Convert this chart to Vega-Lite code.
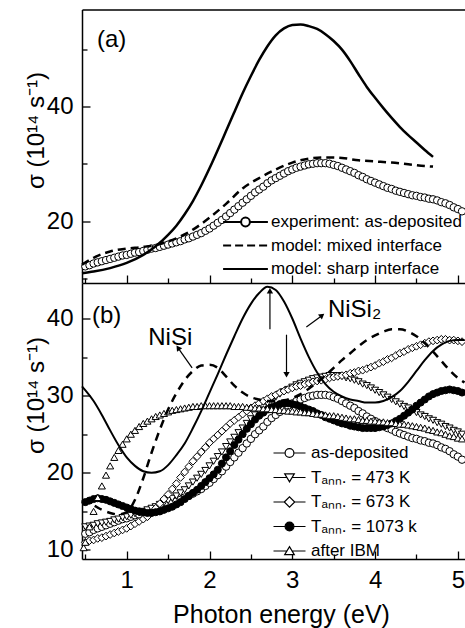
{
"$schema":"https://vega.github.io/schema/vega-lite/v6.json",
"width":383,"height":549.5,
"autosize":{"type":"none"},
"padding":{"left":82,"top":9.5,"right":0,"bottom":69},
"background":"white",
"config":{"view":{"stroke":null},"font":"Liberation Sans",
"axis":{"grid":false,"labelFont":"Liberation Sans","labelFontSize":24,"labelColor":"black","titleFont":"Liberation Sans","titleFontSize":24,"titleFontWeight":"normal","titleColor":"black","domainColor":"black","domainWidth":1.5,"tickColor":"black","tickWidth":1.3}},
"datasets":{
"exp":[{"x":0.5,"y":12.1},{"x":0.55,"y":12.3},{"x":0.6,"y":12.6},{"x":0.65,"y":12.8},{"x":0.7,"y":13.0},{"x":0.75,"y":13.2},{"x":0.8,"y":13.4},{"x":0.85,"y":13.6},{"x":0.9,"y":13.8},{"x":0.95,"y":14.0},{"x":1.0,"y":14.1},{"x":1.05,"y":14.3},{"x":1.1,"y":14.5},{"x":1.15,"y":14.6},{"x":1.2,"y":14.8},{"x":1.25,"y":15.0},{"x":1.3,"y":15.2},{"x":1.35,"y":15.3},{"x":1.4,"y":15.5},{"x":1.45,"y":15.7},{"x":1.5,"y":15.9},{"x":1.55,"y":16.1},{"x":1.6,"y":16.3},{"x":1.65,"y":16.5},{"x":1.7,"y":16.8},{"x":1.75,"y":17.0},{"x":1.8,"y":17.3},{"x":1.85,"y":17.6},{"x":1.9,"y":17.9},{"x":1.95,"y":18.3},{"x":2.0,"y":18.7},{"x":2.05,"y":19.2},{"x":2.1,"y":19.7},{"x":2.15,"y":20.2},{"x":2.2,"y":20.8},{"x":2.25,"y":21.4},{"x":2.3,"y":22.0},{"x":2.35,"y":22.6},{"x":2.4,"y":23.2},{"x":2.45,"y":23.8},{"x":2.5,"y":24.4},{"x":2.55,"y":25.0},{"x":2.6,"y":25.5},{"x":2.65,"y":26.0},{"x":2.7,"y":26.6},{"x":2.75,"y":27.1},{"x":2.8,"y":27.5},{"x":2.85,"y":27.9},{"x":2.9,"y":28.3},{"x":2.95,"y":28.7},{"x":3.0,"y":29.0},{"x":3.05,"y":29.3},{"x":3.1,"y":29.5},{"x":3.15,"y":29.7},{"x":3.2,"y":29.9},{"x":3.25,"y":30.0},{"x":3.3,"y":30.1},{"x":3.35,"y":30.1},{"x":3.4,"y":30.1},{"x":3.45,"y":30.0},{"x":3.5,"y":29.8},{"x":3.55,"y":29.6},{"x":3.6,"y":29.3},{"x":3.65,"y":29.0},{"x":3.7,"y":28.7},{"x":3.75,"y":28.4},{"x":3.8,"y":28.0},{"x":3.85,"y":27.7},{"x":3.9,"y":27.3},{"x":3.95,"y":27.0},{"x":4.0,"y":26.7},{"x":4.05,"y":26.4},{"x":4.1,"y":26.1},{"x":4.15,"y":25.8},{"x":4.2,"y":25.6},{"x":4.25,"y":25.3},{"x":4.3,"y":25.1},{"x":4.35,"y":24.9},{"x":4.4,"y":24.7},{"x":4.45,"y":24.5},{"x":4.5,"y":24.4},{"x":4.55,"y":24.2},{"x":4.6,"y":24.1},{"x":4.65,"y":23.9},{"x":4.7,"y":23.8},{"x":4.75,"y":23.6},{"x":4.8,"y":23.3},{"x":4.85,"y":23.1},{"x":4.9,"y":22.8},{"x":4.95,"y":22.4},{"x":5.0,"y":22.1},{"x":5.05,"y":21.7}],
"a_models":[{"s":"mixed","x":0.46,"y":12.4},{"s":"mixed","x":0.6,"y":13.6},{"s":"mixed","x":0.8,"y":14.7},{"s":"mixed","x":1.0,"y":15.2},{"s":"mixed","x":1.2,"y":15.5},{"s":"mixed","x":1.4,"y":16.0},{"s":"mixed","x":1.6,"y":17.0},{"s":"mixed","x":1.8,"y":18.5},{"s":"mixed","x":2.0,"y":20.6},{"s":"mixed","x":2.2,"y":23.0},{"s":"mixed","x":2.4,"y":25.7},{"s":"mixed","x":2.6,"y":27.5},{"s":"mixed","x":2.8,"y":29.0},{"s":"mixed","x":3.0,"y":30.2},{"s":"mixed","x":3.2,"y":30.9},{"s":"mixed","x":3.4,"y":31.1},{"s":"mixed","x":3.6,"y":31.0},{"s":"mixed","x":3.8,"y":30.6},{"s":"mixed","x":4.0,"y":30.4},{"s":"mixed","x":4.2,"y":30.2},{"s":"mixed","x":4.4,"y":29.9},{"s":"mixed","x":4.6,"y":29.6},{"s":"mixed","x":4.7,"y":29.5},
{"s":"sharp","x":0.46,"y":10.9},{"s":"sharp","x":0.6,"y":11.2},{"s":"sharp","x":0.8,"y":11.8},{"s":"sharp","x":1.0,"y":12.7},{"s":"sharp","x":1.2,"y":14.1},{"s":"sharp","x":1.35,"y":15.6},{"s":"sharp","x":1.5,"y":17.6},{"s":"sharp","x":1.6,"y":19.2},{"s":"sharp","x":1.7,"y":21.2},{"s":"sharp","x":1.8,"y":23.5},{"s":"sharp","x":1.9,"y":26.2},{"s":"sharp","x":2.0,"y":29.2},{"s":"sharp","x":2.1,"y":32.4},{"s":"sharp","x":2.2,"y":35.7},{"s":"sharp","x":2.3,"y":39.0},{"s":"sharp","x":2.4,"y":42.3},{"s":"sharp","x":2.5,"y":45.3},{"s":"sharp","x":2.6,"y":48.1},{"s":"sharp","x":2.7,"y":50.5},{"s":"sharp","x":2.8,"y":52.4},{"s":"sharp","x":2.9,"y":53.6},{"s":"sharp","x":3.0,"y":54.2},{"s":"sharp","x":3.1,"y":54.3},{"s":"sharp","x":3.2,"y":54.0},{"s":"sharp","x":3.3,"y":53.5},{"s":"sharp","x":3.4,"y":52.6},{"s":"sharp","x":3.5,"y":51.4},{"s":"sharp","x":3.6,"y":49.9},{"s":"sharp","x":3.7,"y":47.9},{"s":"sharp","x":3.8,"y":45.6},{"s":"sharp","x":3.9,"y":43.4},{"s":"sharp","x":4.0,"y":41.5},{"s":"sharp","x":4.1,"y":39.7},{"s":"sharp","x":4.2,"y":38.0},{"s":"sharp","x":4.3,"y":36.4},{"s":"sharp","x":4.4,"y":35.0},{"s":"sharp","x":4.5,"y":33.7},{"s":"sharp","x":4.6,"y":32.4},{"s":"sharp","x":4.7,"y":31.2}],
"t473":[{"x":0.5,"y":13.0},{"x":0.55,"y":13.1},{"x":0.6,"y":13.2},{"x":0.65,"y":13.4},{"x":0.7,"y":13.5},{"x":0.75,"y":13.6},{"x":0.8,"y":13.7},{"x":0.85,"y":13.9},{"x":0.9,"y":14.0},{"x":0.95,"y":14.2},{"x":1.0,"y":14.3},{"x":1.05,"y":14.5},{"x":1.1,"y":14.7},{"x":1.15,"y":14.8},{"x":1.2,"y":15.0},{"x":1.25,"y":15.2},{"x":1.3,"y":15.4},{"x":1.35,"y":15.6},{"x":1.4,"y":15.9},{"x":1.45,"y":16.1},{"x":1.5,"y":16.4},{"x":1.55,"y":16.7},{"x":1.6,"y":17.0},{"x":1.65,"y":17.4},{"x":1.7,"y":17.8},{"x":1.75,"y":18.3},{"x":1.8,"y":18.8},{"x":1.85,"y":19.3},{"x":1.9,"y":19.8},{"x":1.95,"y":20.3},{"x":2.0,"y":20.9},{"x":2.05,"y":21.5},{"x":2.1,"y":22.1},{"x":2.15,"y":22.7},{"x":2.2,"y":23.4},{"x":2.25,"y":24.0},{"x":2.3,"y":24.6},{"x":2.35,"y":25.2},{"x":2.4,"y":25.8},{"x":2.45,"y":26.4},{"x":2.5,"y":27.0},{"x":2.55,"y":27.5},{"x":2.6,"y":28.0},{"x":2.65,"y":28.5},{"x":2.7,"y":29.0},{"x":2.75,"y":29.4},{"x":2.8,"y":29.8},{"x":2.85,"y":30.2},{"x":2.9,"y":30.5},{"x":2.95,"y":30.8},{"x":3.0,"y":31.1},{"x":3.05,"y":31.4},{"x":3.1,"y":31.6},{"x":3.15,"y":31.8},{"x":3.2,"y":32.0},{"x":3.25,"y":32.2},{"x":3.3,"y":32.3},{"x":3.35,"y":32.4},{"x":3.4,"y":32.5},{"x":3.45,"y":32.6},{"x":3.5,"y":32.6},{"x":3.55,"y":32.6},{"x":3.6,"y":32.5},{"x":3.65,"y":32.3},{"x":3.7,"y":32.2},{"x":3.75,"y":32.0},{"x":3.8,"y":31.8},{"x":3.85,"y":31.5},{"x":3.9,"y":31.3},{"x":3.95,"y":31.0},{"x":4.0,"y":30.7},{"x":4.05,"y":30.4},{"x":4.1,"y":30.1},{"x":4.15,"y":29.8},{"x":4.2,"y":29.5},{"x":4.25,"y":29.2},{"x":4.3,"y":28.9},{"x":4.35,"y":28.6},{"x":4.4,"y":28.4},{"x":4.45,"y":28.1},{"x":4.5,"y":27.8},{"x":4.55,"y":27.5},{"x":4.6,"y":27.3},{"x":4.65,"y":27.0},{"x":4.7,"y":26.8},{"x":4.75,"y":26.5},{"x":4.8,"y":26.3},{"x":4.85,"y":26.0},{"x":4.9,"y":25.8},{"x":4.95,"y":25.5},{"x":5.0,"y":25.3},{"x":5.05,"y":25.0}],
"t673":[{"x":0.5,"y":11.0},{"x":0.55,"y":11.2},{"x":0.6,"y":11.3},{"x":0.65,"y":11.5},{"x":0.7,"y":11.6},{"x":0.75,"y":11.8},{"x":0.8,"y":12.0},{"x":0.85,"y":12.2},{"x":0.9,"y":12.4},{"x":0.95,"y":12.6},{"x":1.0,"y":12.8},{"x":1.05,"y":13.1},{"x":1.1,"y":13.4},{"x":1.15,"y":13.7},{"x":1.2,"y":14.0},{"x":1.25,"y":14.3},{"x":1.3,"y":14.8},{"x":1.35,"y":15.4},{"x":1.4,"y":16.0},{"x":1.45,"y":16.6},{"x":1.5,"y":17.2},{"x":1.55,"y":17.9},{"x":1.6,"y":18.6},{"x":1.65,"y":19.4},{"x":1.7,"y":20.1},{"x":1.75,"y":20.8},{"x":1.8,"y":21.5},{"x":1.85,"y":22.1},{"x":1.9,"y":22.7},{"x":1.95,"y":23.3},{"x":2.0,"y":23.9},{"x":2.05,"y":24.4},{"x":2.1,"y":24.9},{"x":2.15,"y":25.4},{"x":2.2,"y":25.9},{"x":2.25,"y":26.4},{"x":2.3,"y":26.8},{"x":2.35,"y":27.2},{"x":2.4,"y":27.6},{"x":2.45,"y":28.0},{"x":2.5,"y":28.4},{"x":2.55,"y":28.7},{"x":2.6,"y":29.0},{"x":2.65,"y":29.3},{"x":2.7,"y":29.6},{"x":2.75,"y":29.9},{"x":2.8,"y":30.1},{"x":2.85,"y":30.4},{"x":2.9,"y":30.6},{"x":2.95,"y":30.8},{"x":3.0,"y":31.0},{"x":3.05,"y":31.2},{"x":3.1,"y":31.3},{"x":3.15,"y":31.5},{"x":3.2,"y":31.6},{"x":3.25,"y":31.8},{"x":3.3,"y":31.9},{"x":3.35,"y":32.0},{"x":3.4,"y":32.1},{"x":3.45,"y":32.3},{"x":3.5,"y":32.4},{"x":3.55,"y":32.5},{"x":3.6,"y":32.6},{"x":3.65,"y":32.7},{"x":3.7,"y":32.9},{"x":3.75,"y":33.0},{"x":3.8,"y":33.2},{"x":3.85,"y":33.3},{"x":3.9,"y":33.5},{"x":3.95,"y":33.7},{"x":4.0,"y":33.9},{"x":4.05,"y":34.2},{"x":4.1,"y":34.4},{"x":4.15,"y":34.7},{"x":4.2,"y":34.9},{"x":4.25,"y":35.2},{"x":4.3,"y":35.5},{"x":4.35,"y":35.7},{"x":4.4,"y":36.0},{"x":4.45,"y":36.2},{"x":4.5,"y":36.4},{"x":4.55,"y":36.6},{"x":4.6,"y":36.8},{"x":4.65,"y":37.0},{"x":4.7,"y":37.1},{"x":4.75,"y":37.2},{"x":4.8,"y":37.3},{"x":4.85,"y":37.3},{"x":4.9,"y":37.2},{"x":4.95,"y":37.2},{"x":5.0,"y":37.1},{"x":5.05,"y":37.0}],
"t1073":[{"x":0.5,"y":16.2},{"x":0.55,"y":16.4},{"x":0.6,"y":16.6},{"x":0.65,"y":16.7},{"x":0.7,"y":16.6},{"x":0.75,"y":16.5},{"x":0.8,"y":16.3},{"x":0.85,"y":16.1},{"x":0.9,"y":15.9},{"x":0.95,"y":15.7},{"x":1.0,"y":15.5},{"x":1.05,"y":15.3},{"x":1.1,"y":15.1},{"x":1.15,"y":15.0},{"x":1.2,"y":14.9},{"x":1.25,"y":14.8},{"x":1.3,"y":14.8},{"x":1.35,"y":14.9},{"x":1.4,"y":15.0},{"x":1.45,"y":15.2},{"x":1.5,"y":15.4},{"x":1.55,"y":15.6},{"x":1.6,"y":15.9},{"x":1.65,"y":16.2},{"x":1.7,"y":16.6},{"x":1.75,"y":17.0},{"x":1.8,"y":17.4},{"x":1.85,"y":17.8},{"x":1.9,"y":18.3},{"x":1.95,"y":18.8},{"x":2.0,"y":19.3},{"x":2.05,"y":19.8},{"x":2.1,"y":20.4},{"x":2.15,"y":21.2},{"x":2.2,"y":22.0},{"x":2.25,"y":22.8},{"x":2.3,"y":23.6},{"x":2.35,"y":24.3},{"x":2.4,"y":25.0},{"x":2.45,"y":25.7},{"x":2.5,"y":26.3},{"x":2.55,"y":26.9},{"x":2.6,"y":27.4},{"x":2.65,"y":27.8},{"x":2.7,"y":28.2},{"x":2.75,"y":28.5},{"x":2.8,"y":28.7},{"x":2.85,"y":28.9},{"x":2.9,"y":29.0},{"x":2.95,"y":29.0},{"x":3.0,"y":28.9},{"x":3.05,"y":28.8},{"x":3.1,"y":28.6},{"x":3.15,"y":28.4},{"x":3.2,"y":28.2},{"x":3.25,"y":28.0},{"x":3.3,"y":27.7},{"x":3.35,"y":27.5},{"x":3.4,"y":27.2},{"x":3.45,"y":27.0},{"x":3.5,"y":26.8},{"x":3.55,"y":26.6},{"x":3.6,"y":26.4},{"x":3.65,"y":26.3},{"x":3.7,"y":26.1},{"x":3.75,"y":26.0},{"x":3.8,"y":25.9},{"x":3.85,"y":25.8},{"x":3.9,"y":25.8},{"x":3.95,"y":25.8},{"x":4.0,"y":25.8},{"x":4.05,"y":25.9},{"x":4.1,"y":26.0},{"x":4.15,"y":26.2},{"x":4.2,"y":26.4},{"x":4.25,"y":26.7},{"x":4.3,"y":27.0},{"x":4.35,"y":27.4},{"x":4.4,"y":27.8},{"x":4.45,"y":28.2},{"x":4.5,"y":28.7},{"x":4.55,"y":29.1},{"x":4.6,"y":29.5},{"x":4.65,"y":29.9},{"x":4.7,"y":30.2},{"x":4.75,"y":30.4},{"x":4.8,"y":30.6},{"x":4.85,"y":30.7},{"x":4.9,"y":30.8},{"x":4.95,"y":30.7},{"x":5.0,"y":30.6},{"x":5.05,"y":30.4}],
"ibm":[{"x":0.48,"y":10.3},{"x":0.5,"y":11.0},{"x":0.55,"y":13.0},{"x":0.6,"y":15.0},{"x":0.65,"y":16.8},{"x":0.7,"y":18.3},{"x":0.75,"y":19.7},{"x":0.8,"y":20.9},{"x":0.85,"y":22.0},{"x":0.9,"y":22.9},{"x":0.95,"y":23.7},{"x":1.0,"y":24.4},{"x":1.05,"y":25.0},{"x":1.1,"y":25.5},{"x":1.15,"y":26.0},{"x":1.2,"y":26.4},{"x":1.25,"y":26.7},{"x":1.3,"y":27.0},{"x":1.35,"y":27.3},{"x":1.4,"y":27.5},{"x":1.45,"y":27.7},{"x":1.5,"y":27.9},{"x":1.55,"y":28.1},{"x":1.6,"y":28.2},{"x":1.65,"y":28.3},{"x":1.7,"y":28.4},{"x":1.75,"y":28.5},{"x":1.8,"y":28.6},{"x":1.85,"y":28.6},{"x":1.9,"y":28.7},{"x":1.95,"y":28.7},{"x":2.0,"y":28.7},{"x":2.05,"y":28.7},{"x":2.1,"y":28.7},{"x":2.15,"y":28.7},{"x":2.2,"y":28.7},{"x":2.25,"y":28.7},{"x":2.3,"y":28.6},{"x":2.35,"y":28.6},{"x":2.4,"y":28.6},{"x":2.45,"y":28.5},{"x":2.5,"y":28.5},{"x":2.55,"y":28.4},{"x":2.6,"y":28.4},{"x":2.65,"y":28.3},{"x":2.7,"y":28.3},{"x":2.75,"y":28.2},{"x":2.8,"y":28.2},{"x":2.85,"y":28.1},{"x":2.9,"y":28.1},{"x":2.95,"y":28.0},{"x":3.0,"y":28.0},{"x":3.05,"y":27.9},{"x":3.1,"y":27.9},{"x":3.15,"y":27.8},{"x":3.2,"y":27.8},{"x":3.25,"y":27.7},{"x":3.3,"y":27.6},{"x":3.35,"y":27.6},{"x":3.4,"y":27.5},{"x":3.45,"y":27.4},{"x":3.5,"y":27.4},{"x":3.55,"y":27.3},{"x":3.6,"y":27.2},{"x":3.65,"y":27.1},{"x":3.7,"y":27.0},{"x":3.75,"y":27.0},{"x":3.8,"y":26.9},{"x":3.85,"y":26.8},{"x":3.9,"y":26.8},{"x":3.95,"y":26.7},{"x":4.0,"y":26.7},{"x":4.05,"y":26.6},{"x":4.1,"y":26.6},{"x":4.15,"y":26.5},{"x":4.2,"y":26.5},{"x":4.25,"y":26.4},{"x":4.3,"y":26.3},{"x":4.35,"y":26.3},{"x":4.4,"y":26.2},{"x":4.45,"y":26.1},{"x":4.5,"y":26.0},{"x":4.55,"y":25.9},{"x":4.6,"y":25.8},{"x":4.65,"y":25.6},{"x":4.7,"y":25.5},{"x":4.75,"y":25.3},{"x":4.8,"y":25.2},{"x":4.85,"y":25.0},{"x":4.9,"y":24.8},{"x":4.95,"y":24.7},{"x":5.0,"y":24.5},{"x":5.05,"y":24.4}],
"b_models":[{"s":"NiSi2","x":0.46,"y":31.2},{"s":"NiSi2","x":0.6,"y":29.3},{"s":"NiSi2","x":0.7,"y":27.5},{"s":"NiSi2","x":0.8,"y":25.5},{"s":"NiSi2","x":0.9,"y":23.6},{"s":"NiSi2","x":1.0,"y":22.0},{"s":"NiSi2","x":1.1,"y":20.9},{"s":"NiSi2","x":1.2,"y":20.2},{"s":"NiSi2","x":1.3,"y":20.0},{"s":"NiSi2","x":1.4,"y":20.2},{"s":"NiSi2","x":1.5,"y":21.0},{"s":"NiSi2","x":1.6,"y":22.3},{"s":"NiSi2","x":1.7,"y":23.8},{"s":"NiSi2","x":1.8,"y":25.8},{"s":"NiSi2","x":1.9,"y":28.0},{"s":"NiSi2","x":2.0,"y":30.4},{"s":"NiSi2","x":2.1,"y":32.8},{"s":"NiSi2","x":2.2,"y":35.3},{"s":"NiSi2","x":2.3,"y":37.7},{"s":"NiSi2","x":2.4,"y":40.0},{"s":"NiSi2","x":2.5,"y":41.9},{"s":"NiSi2","x":2.6,"y":43.3},{"s":"NiSi2","x":2.7,"y":44.1},{"s":"NiSi2","x":2.8,"y":43.7},{"s":"NiSi2","x":2.9,"y":42.2},{"s":"NiSi2","x":3.0,"y":40.0},{"s":"NiSi2","x":3.1,"y":37.4},{"s":"NiSi2","x":3.2,"y":35.0},{"s":"NiSi2","x":3.3,"y":33.0},{"s":"NiSi2","x":3.4,"y":31.5},{"s":"NiSi2","x":3.5,"y":30.5},{"s":"NiSi2","x":3.6,"y":29.9},{"s":"NiSi2","x":3.7,"y":29.5},{"s":"NiSi2","x":3.8,"y":29.3},{"s":"NiSi2","x":3.9,"y":29.1},{"s":"NiSi2","x":4.0,"y":29.1},{"s":"NiSi2","x":4.1,"y":29.3},{"s":"NiSi2","x":4.2,"y":29.8},{"s":"NiSi2","x":4.3,"y":30.6},{"s":"NiSi2","x":4.4,"y":31.8},{"s":"NiSi2","x":4.5,"y":33.2},{"s":"NiSi2","x":4.6,"y":34.6},{"s":"NiSi2","x":4.7,"y":35.8},{"s":"NiSi2","x":4.8,"y":36.6},{"s":"NiSi2","x":4.9,"y":37.1},{"s":"NiSi2","x":5.0,"y":37.2},{"s":"NiSi2","x":5.08,"y":37.2},
{"s":"NiSi","x":0.46,"y":16.5},{"s":"NiSi","x":0.6,"y":15.8},{"s":"NiSi","x":0.7,"y":15.2},{"s":"NiSi","x":0.8,"y":14.8},{"s":"NiSi","x":0.9,"y":14.6},{"s":"NiSi","x":1.0,"y":14.9},{"s":"NiSi","x":1.1,"y":16.5},{"s":"NiSi","x":1.2,"y":19.3},{"s":"NiSi","x":1.3,"y":22.6},{"s":"NiSi","x":1.4,"y":25.6},{"s":"NiSi","x":1.5,"y":28.2},{"s":"NiSi","x":1.6,"y":30.3},{"s":"NiSi","x":1.7,"y":32.0},{"s":"NiSi","x":1.8,"y":33.2},{"s":"NiSi","x":1.9,"y":33.9},{"s":"NiSi","x":2.0,"y":34.0},{"s":"NiSi","x":2.1,"y":33.6},{"s":"NiSi","x":2.2,"y":32.5},{"s":"NiSi","x":2.3,"y":31.3},{"s":"NiSi","x":2.4,"y":30.4},{"s":"NiSi","x":2.5,"y":29.8},{"s":"NiSi","x":2.6,"y":29.5},{"s":"NiSi","x":2.7,"y":29.3},{"s":"NiSi","x":2.8,"y":29.3},{"s":"NiSi","x":2.9,"y":29.4},{"s":"NiSi","x":3.0,"y":29.7},{"s":"NiSi","x":3.1,"y":30.2},{"s":"NiSi","x":3.2,"y":30.9},{"s":"NiSi","x":3.3,"y":31.7},{"s":"NiSi","x":3.4,"y":32.6},{"s":"NiSi","x":3.5,"y":33.6},{"s":"NiSi","x":3.6,"y":34.6},{"s":"NiSi","x":3.7,"y":35.5},{"s":"NiSi","x":3.8,"y":36.4},{"s":"NiSi","x":3.9,"y":37.2},{"s":"NiSi","x":4.0,"y":37.8},{"s":"NiSi","x":4.1,"y":38.3},{"s":"NiSi","x":4.2,"y":38.6},{"s":"NiSi","x":4.3,"y":38.6},{"s":"NiSi","x":4.4,"y":38.3},{"s":"NiSi","x":4.5,"y":37.7},{"s":"NiSi","x":4.6,"y":36.8},{"s":"NiSi","x":4.7,"y":35.7},{"s":"NiSi","x":4.8,"y":34.5},{"s":"NiSi","x":4.9,"y":33.3},{"s":"NiSi","x":5.0,"y":32.3},{"s":"NiSi","x":5.08,"y":31.7}],
"labels_a":[{"t":"(a)","x":0.64,"y":50.3}],
"labels_b":[{"t":"(b)","x":0.58,"y":39.4},{"t":"NiSi","x":1.26,"y":36.6},{"t":"NiSi₂","x":3.43,"y":40.2}],
"arrows":[{"id":"NiSi","x":1.79,"y":33.6,"x2":1.62,"y2":36.2},{"id":"NiSi2","x":3.17,"y":38.9,"x2":3.36,"y2":40.4},{"id":"up","x":2.73,"y":38.6,"x2":2.73,"y2":43.6},{"id":"down","x":2.93,"y":37.9,"x2":2.93,"y2":32.7}],
"leg_a":[{"s":"experiment: as-deposited"},{"s":"model: mixed interface"},{"s":"model: sharp interface"}],
"leg_b":[{"s":"as-deposited"},{"s":"Tₐₙₙ. = 473 K"},{"s":"Tₐₙₙ. = 673 K"},{"s":"Tₐₙₙ. = 1073 k"},{"s":"after IBM"}]
},
"resolve":{"scale":{"y":"independent","shape":"independent","fill":"independent","stroke":"independent"},"axis":{"x":"independent","y":"independent"},"legend":{"shape":"independent","fill":"independent","stroke":"independent"}},
"layer":[
{"data":{"name":"exp"},"mark":{"type":"point","shape":"circle","size":55,"filled":true,"fill":"white","stroke":"black","strokeWidth":1,"opacity":1},
 "encoding":{"x":{"field":"x","type":"quantitative","scale":{"domain":[0.46,5.086],"nice":false,"zero":false},"axis":{"orient":"bottom","values":[1,2,3,4,5],"format":"d","ticks":false,"tickSize":0,"labelPadding":9,"domain":true,"title":"Photon energy (eV)","titleFontSize":25,"titleX":199,"titleY":63,"titleAlign":"center","titleBaseline":"alphabetic"}},
 "y":{"field":"y","type":"quantitative","scale":{"domain":[9.2,56.9],"range":[273.5,0],"nice":false,"zero":false},"axis":{"orient":"left","values":[20,40],"ticks":false,"tickSize":0,"labelPadding":9,"domain":true,"title":"σ (10¹⁴ s⁻¹)","titleAngle":-90,"titleX":-39,"titleY":120.5,"titleAlign":"center","titleBaseline":"alphabetic"}}}},
{"data":{"name":"a_models"},"transform":[{"filter":"datum.s === 'mixed'"}],"mark":{"type":"line","color":"black","strokeWidth":2.5,"strokeDash":[8,5],"interpolate":"monotone"},
 "encoding":{"x":{"field":"x","type":"quantitative","scale":{"domain":[0.46,5.086],"nice":false,"zero":false},"axis":{"orient":"bottom","values":[1,2,3,4,5],"labels":false,"domain":false,"tickSize":-8,"title":null}},
 "y":{"field":"y","type":"quantitative","scale":{"domain":[9.2,56.9],"range":[273.5,0],"nice":false,"zero":false},"axis":{"orient":"left","values":[20,40],"labels":false,"domain":false,"tickSize":-8,"title":null}}}},
{"data":{"name":"a_models"},"transform":[{"filter":"datum.s === 'sharp'"}],"mark":{"type":"line","color":"black","strokeWidth":2.5,"interpolate":"monotone"},
 "encoding":{"x":{"field":"x","type":"quantitative","scale":{"domain":[0.46,5.086],"nice":false,"zero":false},"axis":{"orient":"bottom","values":[0.5,1.5,2.5,3.5,4.5],"labels":false,"domain":false,"tickSize":-5,"title":null}},
 "y":{"field":"y","type":"quantitative","scale":{"domain":[9.2,56.9],"range":[273.5,0],"nice":false,"zero":false},"axis":{"orient":"left","values":[10,30,50],"labels":false,"domain":false,"tickSize":-5,"title":null}}}},
{"data":{"name":"leg_a"},"transform":[{"filter":"false"}],"mark":{"type":"point","filled":true,"fill":"white","stroke":"black","strokeWidth":2,"opacity":1},
 "encoding":{"x":{"field":"x","type":"quantitative","scale":{"domain":[0.46,5.086],"nice":false,"zero":false},"axis":{"orient":"top","ticks":false,"labels":false,"domain":true,"title":null}},
 "y":{"field":"y","type":"quantitative","scale":{"domain":[9.2,56.9],"range":[273.5,0],"nice":false,"zero":false},"axis":null},
 "shape":{"field":"s","type":"nominal","scale":{"domain":["experiment: as-deposited","model: mixed interface","model: sharp interface"],"range":["M-5.6,0H-1.1M1.1,0H5.6M-1.1,0A1.1,1.1,0,1,1,1.1,0A1.1,1.1,0,1,1,-1.1,0","M-5.6,0H-3.6M-2.6,0H-0.6M0.4,0H2.4M3.4,0H5.4","M-5.6,0H5.6"]},
  "legend":{"orient":"none","legendX":155,"legendY":204,"title":null,"padding":0,"labelFont":"Liberation Sans","labelFontSize":17,"labelColor":"black","labelLimit":0,"symbolSize":64,"symbolStrokeColor":"black","symbolStrokeWidth":2,"symbolFillColor":"white","labelOffset":17,"rowPadding":5.5}},
 "stroke":{"field":"s","type":"nominal","scale":{"domain":["experiment: as-deposited","model: mixed interface","model: sharp interface"],"range":["black","black","black"]},
  "legend":{"orient":"none","legendX":155,"legendY":204,"title":null,"padding":0,"labelFont":"Liberation Sans","labelFontSize":17,"labelColor":"black","labelLimit":0,"symbolSize":64,"symbolStrokeWidth":2,"symbolFillColor":"white","labelOffset":17,"rowPadding":5.5}}}},
{"data":{"name":"labels_a"},"mark":{"type":"text","font":"Liberation Sans","fontSize":24,"align":"left","baseline":"alphabetic","color":"black"},
 "encoding":{"x":{"field":"x","type":"quantitative","scale":{"domain":[0.46,5.086],"nice":false,"zero":false},"axis":{"orient":"top","offset":-273.5,"values":[1,2,3,4,5],"labels":false,"domain":true,"tickSize":8,"title":null}},
 "y":{"field":"y","type":"quantitative","scale":{"domain":[9.2,56.9],"range":[273.5,0],"nice":false,"zero":false},"axis":null},
 "text":{"field":"t"}}},
{"data":{"name":"exp"},"mark":{"type":"point","shape":"circle","size":55,"filled":true,"fill":"white","stroke":"black","strokeWidth":1,"opacity":1},
 "encoding":{"x":{"field":"x","type":"quantitative","scale":{"domain":[0.46,5.086],"nice":false,"zero":false},"axis":{"orient":"top","offset":-273.5,"values":[0.5,1.5,2.5,3.5,4.5],"labels":false,"domain":false,"tickSize":5,"title":null}},
 "y":{"field":"y","type":"quantitative","scale":{"domain":[8.83,44.6],"range":[549.5,273.5],"nice":false,"zero":false},"axis":{"orient":"left","values":[10,20,30,40],"ticks":false,"tickSize":0,"labelPadding":9,"domain":true,"title":"σ (10¹⁴ s⁻¹)","titleAngle":-90,"titleX":-39,"titleY":385.5,"titleAlign":"center","titleBaseline":"alphabetic"}}}},
{"data":{"name":"t473"},"mark":{"type":"point","shape":"triangle-down","size":50,"filled":true,"fill":"white","stroke":"black","strokeWidth":1,"opacity":1},
 "encoding":{"x":{"field":"x","type":"quantitative","scale":{"domain":[0.46,5.086],"nice":false,"zero":false},"axis":null},
 "y":{"field":"y","type":"quantitative","scale":{"domain":[8.83,44.6],"range":[549.5,273.5],"nice":false,"zero":false},"axis":{"orient":"left","values":[10,20,30,40],"labels":false,"domain":false,"tickSize":-8,"title":null}}}},
{"data":{"name":"t673"},"mark":{"type":"point","shape":"diamond","size":60,"filled":true,"fill":"white","stroke":"black","strokeWidth":1,"opacity":1},
 "encoding":{"x":{"field":"x","type":"quantitative","scale":{"domain":[0.46,5.086],"nice":false,"zero":false},"axis":null},
 "y":{"field":"y","type":"quantitative","scale":{"domain":[8.83,44.6],"range":[549.5,273.5],"nice":false,"zero":false},"axis":{"orient":"left","values":[15,25,35],"labels":false,"domain":false,"tickSize":-5,"title":null}}}},
{"data":{"name":"t1073"},"mark":{"type":"point","shape":"circle","size":50,"filled":true,"fill":"black","stroke":"black","strokeWidth":1,"opacity":1},
 "encoding":{"x":{"field":"x","type":"quantitative","scale":{"domain":[0.46,5.086],"nice":false,"zero":false},"axis":null},
 "y":{"field":"y","type":"quantitative","scale":{"domain":[8.83,44.6],"range":[549.5,273.5],"nice":false,"zero":false},"axis":null}}},
{"data":{"name":"ibm"},"mark":{"type":"point","shape":"triangle-up","size":50,"filled":true,"fill":"white","stroke":"black","strokeWidth":1,"opacity":1},
 "encoding":{"x":{"field":"x","type":"quantitative","scale":{"domain":[0.46,5.086],"nice":false,"zero":false},"axis":null},
 "y":{"field":"y","type":"quantitative","scale":{"domain":[8.83,44.6],"range":[549.5,273.5],"nice":false,"zero":false},"axis":null}}},
{"data":{"name":"b_models"},"transform":[{"filter":"datum.s === 'NiSi'"}],"mark":{"type":"line","color":"black","strokeWidth":2.5,"strokeDash":[8,6],"interpolate":"monotone"},
 "encoding":{"x":{"field":"x","type":"quantitative","scale":{"domain":[0.46,5.086],"nice":false,"zero":false},"axis":null},
 "y":{"field":"y","type":"quantitative","scale":{"domain":[8.83,44.6],"range":[549.5,273.5],"nice":false,"zero":false},"axis":null}}},
{"data":{"name":"b_models"},"transform":[{"filter":"datum.s === 'NiSi2'"}],"mark":{"type":"line","color":"black","strokeWidth":2,"interpolate":"monotone"},
 "encoding":{"x":{"field":"x","type":"quantitative","scale":{"domain":[0.46,5.086],"nice":false,"zero":false},"axis":null},
 "y":{"field":"y","type":"quantitative","scale":{"domain":[8.83,44.6],"range":[549.5,273.5],"nice":false,"zero":false},"axis":null}}},
{"data":{"name":"leg_b"},"transform":[{"filter":"false"}],"mark":{"type":"point","filled":true,"stroke":"black","strokeWidth":1.2,"opacity":1},
 "encoding":{"x":{"field":"x","type":"quantitative","scale":{"domain":[0.46,5.086],"nice":false,"zero":false},"axis":null},
 "y":{"field":"y","type":"quantitative","scale":{"domain":[8.83,44.6],"range":[549.5,273.5],"nice":false,"zero":false},"axis":null},
 "shape":{"field":"s","type":"nominal","scale":{"domain":["as-deposited","Tₐₙₙ. = 473 K","Tₐₙₙ. = 673 K","Tₐₙₙ. = 1073 k","after IBM"],"range":["M-4,0H-1.1M1.1,0H4M-1.1,0A1.1,1.1,0,1,1,1.1,0A1.1,1.1,0,1,1,-1.1,0","M-4,0H-0.7M0.7,0H4M-1.2,-0.9H1.2L0,1.1Z","M-4,0H-1.3M1.3,0H4M-1.3,0L0,-1.3L1.3,0L0,1.3Z","M-4,0H-1.1M1.1,0H4M-1.1,0A1.1,1.1,0,1,1,1.1,0A1.1,1.1,0,1,1,-1.1,0","M-4,0H-0.7M0.7,0H4M-1.2,0.9H1.2L0,-1.1Z"]},
  "legend":{"orient":"none","legendX":199,"legendY":435,"title":null,"padding":0,"labelFont":"Liberation Sans","labelFontSize":17,"labelColor":"black","labelLimit":0,"symbolSize":64,"symbolStrokeWidth":1.2,"labelOffset":13,"rowPadding":6.5}},
 "fill":{"field":"s","type":"nominal","scale":{"domain":["as-deposited","Tₐₙₙ. = 473 K","Tₐₙₙ. = 673 K","Tₐₙₙ. = 1073 k","after IBM"],"range":["white","white","white","black","white"]},
  "legend":{"orient":"none","legendX":199,"legendY":435,"title":null,"padding":0,"labelFont":"Liberation Sans","labelFontSize":17,"labelColor":"black","labelLimit":0,"symbolSize":64,"symbolStrokeWidth":1.2,"labelOffset":13,"rowPadding":6.5}},
 "stroke":{"field":"s","type":"nominal","scale":{"domain":["as-deposited","Tₐₙₙ. = 473 K","Tₐₙₙ. = 673 K","Tₐₙₙ. = 1073 k","after IBM"],"range":["black","black","black","black","black"]},
  "legend":{"orient":"none","legendX":199,"legendY":435,"title":null,"padding":0,"labelFont":"Liberation Sans","labelFontSize":17,"labelColor":"black","labelLimit":0,"symbolSize":64,"symbolStrokeWidth":1.2,"labelOffset":13,"rowPadding":6.5}}}},
{"data":{"name":"labels_b"},"mark":{"type":"text","font":"Liberation Sans","fontSize":24,"align":"left","baseline":"alphabetic","color":"black"},
 "encoding":{"x":{"field":"x","type":"quantitative","scale":{"domain":[0.46,5.086],"nice":false,"zero":false},"axis":null},
 "y":{"field":"y","type":"quantitative","scale":{"domain":[8.83,44.6],"range":[549.5,273.5],"nice":false,"zero":false},"axis":null},
 "text":{"field":"t"}}},
{"data":{"name":"arrows"},"mark":{"type":"rule","color":"black","strokeWidth":1.2},
 "encoding":{"x":{"field":"x","type":"quantitative","scale":{"domain":[0.46,5.086],"nice":false,"zero":false},"axis":null},
 "y":{"field":"y","type":"quantitative","scale":{"domain":[8.83,44.6],"range":[549.5,273.5],"nice":false,"zero":false},"axis":null},
 "x2":{"field":"x2"},"y2":{"field":"y2"}}},
{"data":{"name":"arrows"},"transform":[{"filter":"datum.id === 'up'"}],"mark":{"type":"point","shape":"triangle-up","size":40,"filled":true,"color":"black","opacity":1},
 "encoding":{"x":{"field":"x2","type":"quantitative","scale":{"domain":[0.46,5.086],"nice":false,"zero":false},"axis":null},
 "y":{"field":"y2","type":"quantitative","scale":{"domain":[8.83,44.6],"range":[549.5,273.5],"nice":false,"zero":false},"axis":null}}},
{"data":{"name":"arrows"},"transform":[{"filter":"datum.id === 'down'"}],"mark":{"type":"point","shape":"triangle-down","size":40,"filled":true,"color":"black","opacity":1},
 "encoding":{"x":{"field":"x2","type":"quantitative","scale":{"domain":[0.46,5.086],"nice":false,"zero":false},"axis":null},
 "y":{"field":"y2","type":"quantitative","scale":{"domain":[8.83,44.6],"range":[549.5,273.5],"nice":false,"zero":false},"axis":null}}},
{"data":{"name":"arrows"},"transform":[{"filter":"datum.id === 'NiSi'"}],"mark":{"type":"point","shape":"triangle-up","angle":-35,"size":40,"filled":true,"color":"black","opacity":1},
 "encoding":{"x":{"field":"x2","type":"quantitative","scale":{"domain":[0.46,5.086],"nice":false,"zero":false},"axis":null},
 "y":{"field":"y2","type":"quantitative","scale":{"domain":[8.83,44.6],"range":[549.5,273.5],"nice":false,"zero":false},"axis":null}}},
{"data":{"name":"arrows"},"transform":[{"filter":"datum.id === 'NiSi2'"}],"mark":{"type":"point","shape":"triangle-up","angle":52,"size":40,"filled":true,"color":"black","opacity":1},
 "encoding":{"x":{"field":"x2","type":"quantitative","scale":{"domain":[0.46,5.086],"nice":false,"zero":false},"axis":null},
 "y":{"field":"y2","type":"quantitative","scale":{"domain":[8.83,44.6],"range":[549.5,273.5],"nice":false,"zero":false},"axis":null}}}
]
}
